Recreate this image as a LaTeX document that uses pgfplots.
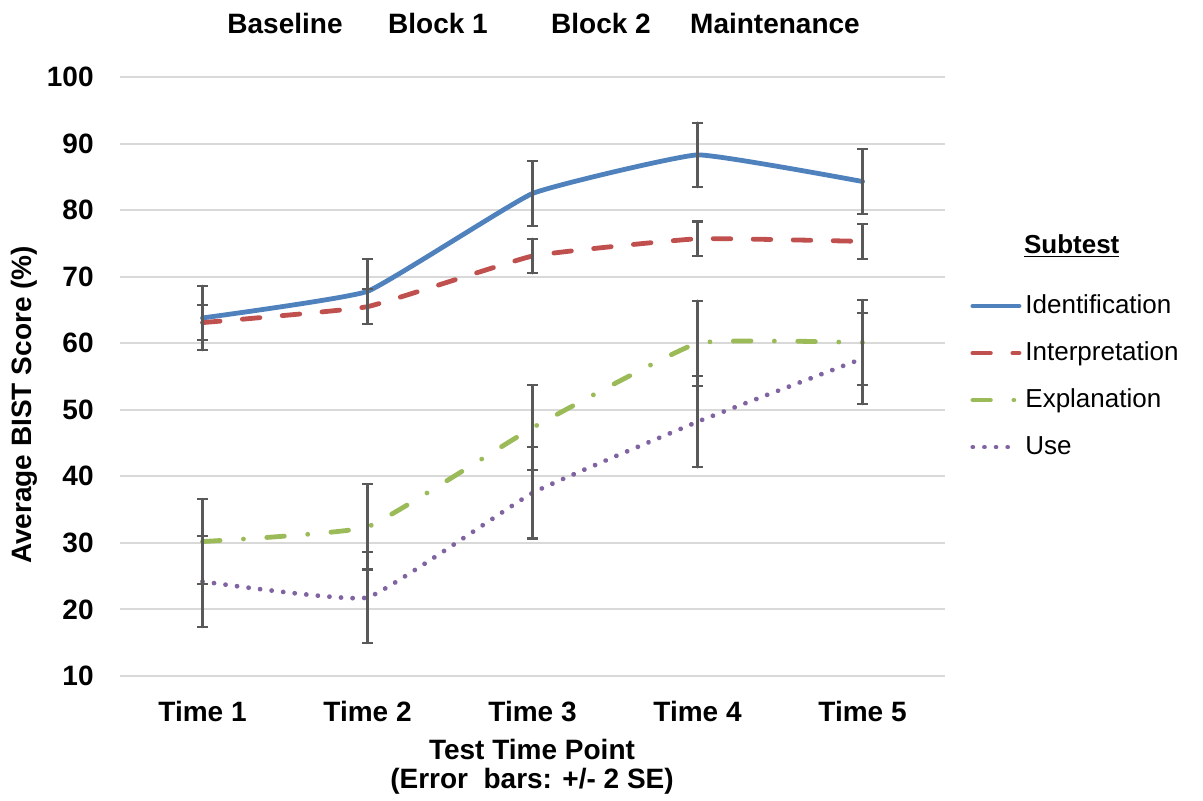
\documentclass[border=0pt]{standalone}
\usepackage{fontspec}
\setmainfont{Liberation Sans}
\usepackage{pgfplots}
\usepackage{pgfplotstable}
\pgfplotsset{compat=1.18}
\definecolor{idc}{HTML}{4F81BD}
\definecolor{inc}{HTML}{C0504D}
\definecolor{exc}{HTML}{9BBB59}
\definecolor{usc}{HTML}{8064A2}
\definecolor{errc}{HTML}{595959}
\definecolor{gridc}{HTML}{D9D9D9}

\pgfplotstableread{
x y e
1 63.8 4.85
2 67.8 4.85
3 82.5 4.85
4 88.3 4.85
5 84.3 4.85
}\ident
\pgfplotstableread{
x y e
1 63.1 2.6
2 65.5 2.6
3 73.1 2.6
4 75.7 2.6
5 75.3 2.6
}\interp
\pgfplotstableread{
x y e
1 30.2 6.4
2 32.4 6.4
3 47.3 6.4
4 60.0 6.4
5 60.1 6.4
}\expl
\pgfplotstableread{
x y e
1 24.2 6.85
2 21.8 6.85
3 37.5 6.85
4 48.2 6.85
5 57.7 6.85
}\use

\begin{document}
\begin{tikzpicture}
\path[use as bounding box] (-60pt,-62pt) rectangle (541.5pt,338pt);
\begin{axis}[
  at={(0,0)}, anchor=south west,
  scale only axis, width=412.5pt, height=299.5pt,
  xmin=0.5, xmax=5.5, ymin=10, ymax=100,
  xtick={1,2,3,4,5},
  xticklabels={Time 1,Time 2,Time 3,Time 4,Time 5},
  ytick={10,20,...,100},
  ymajorgrids,
  major grid style={gridc, line width=1pt},
  axis line style={draw=none},
  major tick length=0pt,
  clip=false,
  /pgf/number format/assume math mode=true,
  tick label style={font=\fontsize{14}{16}\selectfont\bfseries},
  yticklabel style={inner sep=0pt, anchor=east, xshift=-13pt},
  xticklabel style={inner sep=0pt, anchor=base, yshift=-22.85pt},
  every axis plot/.append style={line width=2.4pt, smooth, tension=0.2, line cap=round, line join=round},
  error bars/error bar style={errc, line width=1.1pt, solid},
  error bars/error mark options={errc, rotate=90, mark size=2.6pt, line width=1.1pt, solid},
  legend style={at={(1.0303,0.640)}, anchor=north west, draw=none, fill=none,
    inner sep=0pt, row sep=10.5pt,
    font=\fontsize{13}{15}\selectfont,
    nodes={inner sep=0pt, text height=10pt, text depth=3pt},
    column sep=2pt},
  legend cell align=left,
  legend image code/.code={\draw[#1, smooth=false] (1.2pt,0pt) -- (24.3pt,0pt);},
]
\addplot[idc, error bars/.cd, y dir=both, y explicit]
  table[x=x, y=y, y error=e] {\ident};
\addlegendentry{Identification}
\addplot[inc, dash pattern=on 8.8pt off 11.2pt, error bars/.cd, y dir=both, y explicit]
  table[x=x, y=y, y error=e] {\interp};
\addlegendentry{Interpretation}
\addplot[exc, dash pattern=on 8.8pt off 11.7pt on 0.01pt off 11.7pt, error bars/.cd, y dir=both, y explicit]
  table[x=x, y=y, y error=e] {\expl};
\addlegendentry{Explanation}
\addplot[usc, dash pattern=on 0.01pt off 5.8pt, error bars/.cd, y dir=both, y explicit]
  table[x=x, y=y, y error=e] {\use};
\addlegendentry{Use}
\end{axis}
\begin{scope}[font=\fontsize{14}{16}\selectfont\bfseries]
\node[anchor=base, inner sep=0pt] at (82.5pt,321.35pt) {Baseline};
\node[anchor=base, inner sep=0pt] at (159pt,321.35pt) {Block 1};
\node[anchor=base, inner sep=0pt] at (240.5pt,321.35pt) {Block 2};
\node[anchor=base, inner sep=0pt] at (327.5pt,321.35pt) {Maintenance};
\node[anchor=base, inner sep=0pt] at (206pt,-41.65pt) {Test Time Point};
\node[anchor=base, inner sep=0pt] at (206pt,-56.15pt) {(Error\ \ bars: +/- 2 SE)};
\node[anchor=base, inner sep=0pt, rotate=90] at (-44pt,135.5pt) {Average BIST Score (\%)};
\end{scope}
\node[anchor=base, inner sep=0pt, font=\fontsize{13}{15}\selectfont\bfseries] at (475.85pt,211.5pt) {\underline{Subtest}};
\end{tikzpicture}
\end{document}
